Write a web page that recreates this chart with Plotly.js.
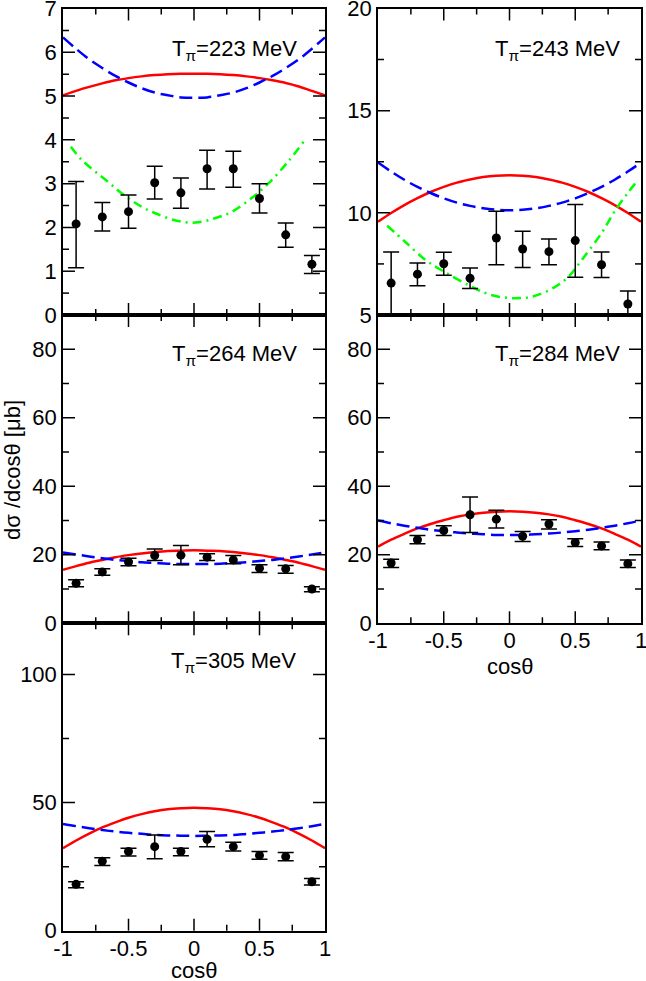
<!DOCTYPE html>
<html>
<head>
<meta charset="utf-8">
<script src="https://cdn.plot.ly/plotly-3.0.1.min.js"></script>
<style>
  body { margin: 0; background: #fff; }
  #chart { width: 646px; height: 981px; }
</style>
</head>
<body>
<div id="chart"></div>
<script>
// measured points (cos theta bins)
var cosPts = [-0.9, -0.7, -0.5, -0.3, -0.1, 0.1, 0.3, 0.5, 0.7, 0.9];
// grid for the model curves
var cosGrid = [-1, -0.9, -0.8, -0.7, -0.6, -0.5, -0.4, -0.3, -0.2, -0.1, 0, 0.1, 0.2, 0.3, 0.4, 0.5, 0.6, 0.7, 0.8, 0.9, 1];

var energies = ['223', '243', '264', '284', '305'];

// T = 223 MeV
var val223 = [2.08, 2.24, 2.36, 3.02, 2.79, 3.34, 3.34, 2.66, 1.83, 1.16];
var hi223  = [3.05, 2.57, 2.74, 3.40, 3.13, 3.76, 3.74, 3.00, 2.10, 1.36];
var lo223  = [1.08, 1.92, 1.98, 2.65, 2.44, 2.88, 2.92, 2.33, 1.55, 0.95];
var red223  = [5.02, 5.12, 5.21, 5.29, 5.36, 5.41, 5.45, 5.48, 5.50, 5.51, 5.51, 5.51, 5.50, 5.48, 5.45, 5.41, 5.36, 5.30, 5.22, 5.12, 5.02];
var blue223 = [6.34, 6.08, 5.84, 5.64, 5.46, 5.31, 5.18, 5.08, 5.02, 4.97, 4.96, 4.97, 5.02, 5.08, 5.18, 5.31, 5.46, 5.64, 5.84, 6.08, 6.34];
var greenX223 = [-0.94, -0.86, -0.66, -0.54, -0.41, -0.3, -0.14, 0.01, 0.16, 0.29, 0.44, 0.57, 0.72, 0.84];
var green223  = [3.84, 3.55, 3.05, 2.75, 2.49, 2.33, 2.16, 2.11, 2.21, 2.36, 2.67, 3.01, 3.51, 3.97];

// T = 243 MeV
var val243 = [6.56, 7.00, 7.51, 6.80, 8.77, 8.23, 8.10, 8.64, 7.46, 5.54];
var hi243  = [8.08, 7.54, 8.07, 7.30, 10.08, 9.10, 8.72, 10.41, 8.08, 6.18];
var lo243  = [5.03, 6.43, 6.95, 6.30, 7.46, 7.33, 7.46, 6.85, 6.84, 4.90];
var red243  = [9.56, 9.99, 10.38, 10.72, 11.02, 11.27, 11.48, 11.63, 11.75, 11.82, 11.84, 11.82, 11.75, 11.63, 11.48, 11.27, 11.02, 10.72, 10.38, 9.99, 9.56];
var blue243 = [12.46, 12.02, 11.62, 11.27, 10.97, 10.71, 10.50, 10.34, 10.22, 10.15, 10.13, 10.15, 10.22, 10.34, 10.50, 10.71, 10.97, 11.27, 11.62, 12.02, 12.46];
var greenX243 = [-0.93, -0.8, -0.64, -0.5, -0.29, -0.14, 0.04, 0.19, 0.35, 0.45, 0.55, 0.7, 0.8, 0.9, 0.97];
var green243  = [9.37, 8.62, 7.70, 7.13, 6.39, 5.98, 5.82, 5.93, 6.39, 6.88, 7.70, 9.01, 10.08, 10.98, 11.55];

// T = 264 MeV
var val264 = [11.7, 15.0, 17.9, 19.8, 19.9, 19.3, 18.5, 16.1, 15.9, 10.0];
var hi264  = [12.7, 15.9, 19.0, 21.7, 22.7, 20.3, 19.8, 17.1, 16.9, 10.7];
var lo264  = [10.7, 14.0, 16.8, 18.3, 17.1, 18.3, 17.4, 14.8, 14.6, 9.2];
var red264  = [15.6, 16.7, 17.7, 18.5, 19.3, 19.9, 20.4, 20.8, 21.1, 21.2, 21.3, 21.2, 21.1, 20.8, 20.4, 19.9, 19.3, 18.5, 17.7, 16.7, 15.6];
var blue264 = [20.7, 20.1, 19.5, 19.0, 18.5, 18.2, 17.8, 17.6, 17.4, 17.3, 17.3, 17.3, 17.4, 17.6, 17.8, 18.2, 18.5, 19.0, 19.5, 20.1, 20.7];

// T = 284 MeV
var val284 = [17.6, 24.4, 27.1, 31.7, 30.4, 25.4, 29.0, 23.6, 22.6, 17.4];
var hi284  = [18.7, 25.6, 28.5, 36.9, 33.0, 26.8, 30.2, 24.7, 23.7, 18.5];
var lo284  = [16.3, 23.2, 25.6, 26.5, 27.8, 23.9, 27.5, 22.4, 21.5, 16.3];
var red284  = [22.4, 24.4, 26.1, 27.7, 29.0, 30.1, 31.1, 31.8, 32.3, 32.6, 32.7, 32.6, 32.3, 31.8, 31.1, 30.1, 29.0, 27.7, 26.1, 24.4, 22.4];
var blue284 = [30.0, 29.2, 28.5, 27.9, 27.3, 26.9, 26.5, 26.2, 26.0, 25.8, 25.8, 25.8, 26.0, 26.2, 26.5, 26.9, 27.3, 27.9, 28.5, 29.2, 30.0];

// T = 305 MeV
var val305 = [18.1, 27.1, 30.9, 32.8, 30.9, 35.7, 32.8, 29.4, 28.9, 19.1];
var hi305  = [19.1, 28.5, 32.2, 37.4, 32.2, 38.7, 34.5, 30.9, 30.5, 20.4];
var lo305  = [16.8, 25.5, 29.2, 28.1, 29.3, 32.8, 31.1, 27.9, 27.3, 17.8];
var red305  = [32.2, 35.2, 37.9, 40.3, 42.3, 44.1, 45.5, 46.6, 47.4, 47.8, 48.0, 47.8, 47.4, 46.6, 45.5, 44.1, 42.3, 40.3, 37.9, 35.2, 32.2];
var blue305 = [41.7, 40.8, 40.0, 39.3, 38.7, 38.2, 37.8, 37.4, 37.2, 37.1, 37.0, 37.1, 37.2, 37.4, 37.8, 38.2, 38.7, 39.3, 40.0, 40.8, 41.7];

// x tick labels (plain hyphen like the original)
var xTickVals = [-1, -0.5, 0, 0.5, 1];
var xTickText = ['-1', '-0.5', '0', '0.5', '1'];

var W = 646, H = 981;
var FONT = 'Liberation Sans, Arial, sans-serif';
var FS = 22;

function px2x(p) { return p / W; }
function px2y(p) { return 1 - p / H; }

var traces = [];

// one panel = data points + model curves
function addPanel(n, val, hi, lo, red, blue, gx, gy) {
    var xa = n == 1 ? 'x' : 'x' + n;
    var ya = n == 1 ? 'y' : 'y' + n;
    var up = [], down = [];
    for (var i = 0; i < val.length; i++) {
        up.push(hi[i] - val[i]);
        down.push(val[i] - lo[i]);
    }
    traces.push({
        x: cosGrid, y: red, xaxis: xa, yaxis: ya, mode: 'lines',
        line: {color: '#ff0000', width: 2.5, shape: 'spline'}
    });
    traces.push({
        x: cosGrid, y: blue, xaxis: xa, yaxis: ya, mode: 'lines',
        line: {color: '#0000ff', width: 2.5, dash: '13px,6px', shape: 'spline'}
    });
    if (gx) {
        traces.push({
            x: gx, y: gy, xaxis: xa, yaxis: ya, mode: 'lines',
            line: {color: '#00ff00', width: 2.5, dash: '9px,5px,2px,5px', shape: 'spline'}
        });
    }
    traces.push({
        x: cosPts, y: val, xaxis: xa, yaxis: ya, mode: 'markers',
        marker: {color: '#000', size: 9},
        error_y: {type: 'data', symmetric: false, array: up, arrayminus: down,
                  color: '#000', thickness: 1.5, width: 8}
    });
}

addPanel(1, val223, hi223, lo223, red223, blue223, greenX223, green223);
addPanel(2, val243, hi243, lo243, red243, blue243, greenX243, green243);
addPanel(3, val264, hi264, lo264, red264, blue264);
addPanel(4, val284, hi284, lo284, red284, blue284);
addPanel(5, val305, hi305, lo305, red305, blue305);

// panel frames in pixels: [left, right] and [top, bottom]
var cols = [[63, 325], [378, 641], [63, 325], [378, 641], [63, 325]];
var rows = [[8.5, 315], [8.5, 315], [315, 623.3], [315, 623.3], [623.3, 930.7]];
var yRanges = [[0, 7], [5, 20], [0, 90], [0, 90], [0, 120]];
var yMajor = [1, 5, 20, 20, 50];
var yMinor = [0.5, 2.5, 10, 10, 25];
var xLabels = [false, false, false, true, true];

var layout = {
    width: W, height: H,
    margin: {l: 0, r: 0, t: 0, b: 0},
    showlegend: false,
    paper_bgcolor: '#fff',
    plot_bgcolor: 'rgba(0,0,0,0)',
    annotations: [],
    shapes: []
};

function plainAxis() {
    return {
        showline: true, linecolor: '#000', linewidth: 1.5, mirror: true,
        ticks: '', showgrid: false, zeroline: false,
        ticklabeloverflow: 'allow',
        tickfont: {family: FONT, size: FS, color: '#000'}
    };
}

// inward ticks as short lines: position on the axis scale, length in paper units
var TICK = {color: '#000', width: 1.5};
function edgeTicks(p, xId, yId) {
    var left = px2x(cols[p][0]), right = px2x(cols[p][1]);
    var bottom = px2y(rows[p][1]), top = px2y(rows[p][0]);
    for (var i = 1; i < 8; i++) {
        var v = -1 + i * 0.25;
        var len = (i % 2 == 0 ? 12 : 6) / H;
        layout.shapes.push({type: 'line', layer: 'above', xref: xId, yref: 'paper',
            x0: v, x1: v, y0: bottom, y1: bottom + len, line: TICK});
        layout.shapes.push({type: 'line', layer: 'above', xref: xId, yref: 'paper',
            x0: v, x1: v, y0: top, y1: top - len, line: TICK});
    }
    var r = yRanges[p];
    var steps = Math.round((r[1] - r[0]) / yMinor[p]);
    for (var j = 1; j < steps; j++) {
        var yv = r[0] + j * yMinor[p];
        var q = yv / yMajor[p];
        var ylen = (Math.abs(q - Math.round(q)) < 1e-6 ? 12 : 6) / W;
        layout.shapes.push({type: 'line', layer: 'above', xref: 'paper', yref: yId,
            x0: left, x1: left + ylen, y0: yv, y1: yv, line: TICK});
        layout.shapes.push({type: 'line', layer: 'above', xref: 'paper', yref: yId,
            x0: right, x1: right - ylen, y0: yv, y1: yv, line: TICK});
    }
}

for (var p = 0; p < 5; p++) {
    var n = p + 1;
    var xId = n == 1 ? 'x' : 'x' + n;
    var yId = n == 1 ? 'y' : 'y' + n;

    var xa = plainAxis();
    xa.domain = [px2x(cols[p][0]), px2x(cols[p][1])];
    xa.anchor = yId;
    xa.range = [-1, 1];
    xa.tickmode = 'array'; xa.tickvals = xTickVals; xa.ticktext = xTickText;
    xa.showticklabels = xLabels[p];
    xa.ticklabelstandoff = -3;
    layout[n == 1 ? 'xaxis' : 'xaxis' + n] = xa;

    var ya = plainAxis();
    ya.domain = [px2y(rows[p][1]), px2y(rows[p][0])];
    ya.anchor = xId;
    ya.range = yRanges[p];
    ya.tickmode = 'linear'; ya.tick0 = 0; ya.dtick = yMajor[p];
    ya.ticklabelstandoff = 0;
    layout[n == 1 ? 'yaxis' : 'yaxis' + n] = ya;

    edgeTicks(p, xId, yId);
}

// panel labels, centred on where the reference text sits
var labelPos = [[234, 50], [557, 50], [234, 355], [557, 355], [233.5, 662]];
for (var k = 0; k < energies.length; k++) {
    layout.annotations.push({
        xref: 'paper', yref: 'paper',
        x: px2x(labelPos[k][0]), y: px2y(labelPos[k][1]),
        xanchor: 'center', yanchor: 'middle', showarrow: false,
        text: 'T<sub>\u03c0</sub>=' + energies[k] + ' MeV',
        font: {family: FONT, size: FS, color: '#000'}
    });
}
// axis titles
layout.annotations.push({
    xref: 'paper', yref: 'paper', x: px2x(12), y: px2y(470),
    xanchor: 'center', yanchor: 'middle', showarrow: false, textangle: -90,
    text: 'd\u03c3 /dcos\u03b8 [\u03bcb]',
    font: {family: FONT, size: FS, color: '#000'}
});
layout.annotations.push({
    xref: 'paper', yref: 'paper', x: px2x(510), y: px2y(666),
    xanchor: 'center', yanchor: 'middle', showarrow: false,
    text: 'cos\u03b8', font: {family: FONT, size: FS, color: '#000'}
});
layout.annotations.push({
    xref: 'paper', yref: 'paper', x: px2x(194), y: px2y(970),
    xanchor: 'center', yanchor: 'middle', showarrow: false,
    text: 'cos\u03b8', font: {family: FONT, size: FS, color: '#000'}
});

Plotly.newPlot('chart', traces, layout, {displayModeBar: false});
</script>
</body>
</html>
